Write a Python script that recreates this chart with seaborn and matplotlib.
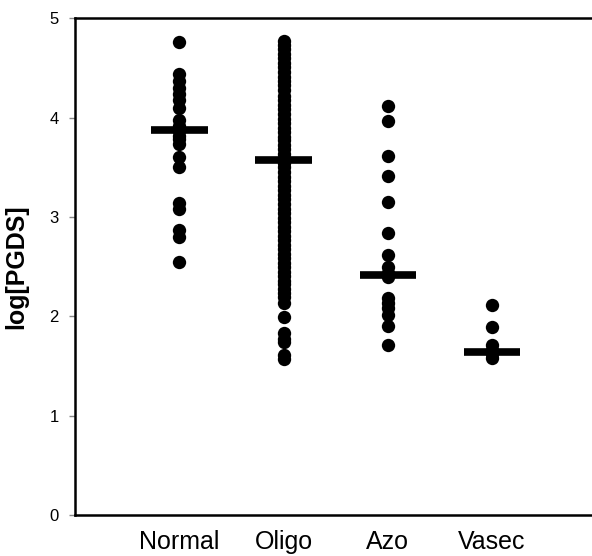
import matplotlib

matplotlib.use("Agg")
import matplotlib.pyplot as plt
import numpy as np
import pandas as pd
import seaborn as sns


CATEGORIES = ["Normal", "Oligo", "Azo", "Vasec"]

NORMAL = [4.76, 4.44, 4.37, 4.30, 4.24, 4.18, 4.10, 3.98, 3.92, 3.87,
          3.82, 3.78, 3.73, 3.60, 3.50, 3.14, 3.08, 2.87, 2.80, 2.55]
OLIGO = [4.77, 4.73, 4.69, 4.64, 4.60, 4.55, 4.51, 4.46, 4.41, 4.37,
         4.33, 4.28, 4.22, 4.18, 4.13, 4.09, 4.04, 3.99, 3.95, 3.90,
         3.86, 3.81, 3.77, 3.72, 3.68, 3.63, 3.58, 3.54, 3.50, 3.45,
         3.40, 3.36, 3.31, 3.27, 3.22, 3.18, 3.13, 3.08, 3.04, 2.99,
         2.95, 2.90, 2.86, 2.81, 2.77, 2.72, 2.68, 2.63, 2.59, 2.54,
         2.50, 2.45, 2.41, 2.36, 2.32, 2.27, 2.23, 2.19, 2.13, 1.99,
         1.83, 1.77, 1.74, 1.61, 1.57]
AZO = [4.12, 3.97, 3.61, 3.41, 3.15, 2.84, 2.62, 2.50, 2.44, 2.40,
       2.18, 2.13, 2.08, 2.01, 1.90, 1.71]
VASEC = [2.11, 1.89, 1.71, 1.66, 1.62, 1.58]

GROUP_MEANS = [3.88, 3.57, 2.42, 1.64]

Y_TICKS = [0, 1, 2, 3, 4, 5]


def build_frame() -> pd.DataFrame:
    rows = []
    for name, values in zip(CATEGORIES, [NORMAL, OLIGO, AZO, VASEC]):
        for v in values:
            rows.append({"group": name, "value": v})
    return pd.DataFrame(rows)


def main() -> None:
    sns.set_theme(style="white")
    plt.rcParams["font.family"] = ["Liberation Sans", "DejaVu Sans"]

    df = build_frame()

    fig = plt.figure(figsize=(5.92, 5.56), dpi=100)
    ax = fig.add_axes([0.127, 0.074, 0.873, 0.893])

    sns.stripplot(
        data=df, x="group", y="value", order=CATEGORIES,
        jitter=False, color="black", size=9.6, linewidth=0, ax=ax,
    )

    pos = np.arange(len(CATEGORIES))
    ax.hlines(GROUP_MEANS, pos - 0.27, pos + 0.27, colors="black", linewidth=5.5, zorder=3)

    ax.set_xlim(-1.0, 3.96)
    ax.set_ylim(0, 5)
    ax.set_yticks(Y_TICKS)
    ax.set_yticklabels([str(t) for t in Y_TICKS], fontsize=12)
    ax.tick_params(axis="y", left=True, length=4, width=1, color="#888888",
                   labelcolor="black", pad=8)
    ax.tick_params(axis="x", bottom=False, labelsize=18, labelcolor="black", pad=5)

    ax.set_xlabel("")
    ax.set_ylabel("log[PGDS]", fontsize=18, fontweight="bold", color="black")
    ax.yaxis.set_label_coords(-0.09, 0.5)

    for side in ["left", "bottom", "top"]:
        ax.spines[side].set_color("black")
        ax.spines[side].set_linewidth(1.8)
    ax.spines["right"].set_visible(False)

    fig.savefig("out.png", dpi=100)
    plt.close(fig)


if __name__ == "__main__":
    main()
